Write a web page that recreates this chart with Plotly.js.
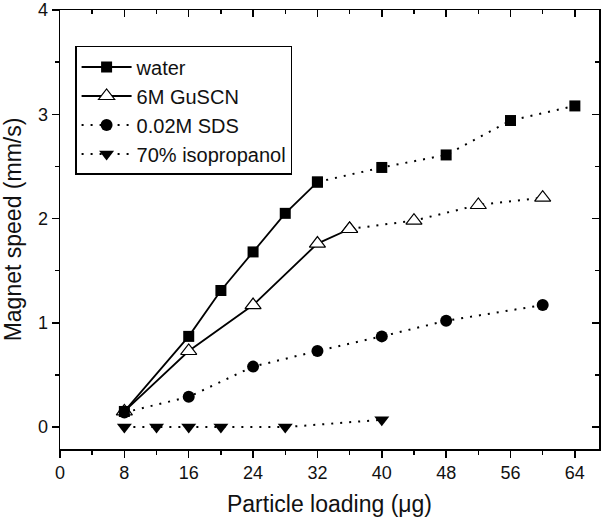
<!DOCTYPE html>
<html><head><meta charset="utf-8">
<script src="https://cdn.plot.ly/plotly-3.0.1.min.js"></script>
<style>body{margin:0;padding:0;background:#fff}#chart{width:601px;height:517px}</style>
</head><body><div id="chart"></div>
<script>
// water
const waterX = [8, 16, 20, 24, 28, 32, 40, 48, 56, 64];
const waterY = [0.15, 0.87, 1.31, 1.68, 2.05, 2.35, 2.49, 2.61, 2.94, 3.08];
const waterSolidEnd = 32;
// 6M GuSCN
const guscnX = [8, 16, 24, 32, 36, 44, 52, 60];
const guscnY = [0.15, 0.73, 1.17, 1.76, 1.90, 1.98, 2.13, 2.20];
const guscnSolidEnd = 36;
// 0.02M SDS
const sdsX = [8, 16, 24, 32, 40, 48, 60];
const sdsY = [0.14, 0.29, 0.58, 0.73, 0.87, 1.02, 1.17];
// 70% isopropanol
const isoX = [8, 12, 16, 20, 28, 40];
const isoY = [0, 0, 0, 0, 0, 0.07];
const seriesNames = ['water', '6M GuSCN', '0.02M SDS', '70% isopropanol'];
const xTicks = [0, 8, 16, 24, 32, 40, 48, 56, 64];
const yTicks = [0, 1, 2, 3, 4];

function split(xs, ys, end) {
  const a = {x: [], y: []}, b = {x: [], y: []};
  xs.forEach((x, i) => {
    if (x <= end) { a.x.push(x); a.y.push(ys[i]); }
    if (x >= end) { b.x.push(x); b.y.push(ys[i]); }
  });
  return [a, b];
}
const [wA, wB] = split(waterX, waterY, waterSolidEnd);
const [gA, gB] = split(guscnX, guscnY, guscnSolidEnd);

const lw = 1.8;
const dotted = '2px,7px';
const traces = [
  {x: isoX, y: isoY, name: seriesNames[3], legendrank: 4, mode: 'lines+markers',
   line: {color: '#000', width: 2, dash: dotted},
   marker: {symbol: 'triangle-down', size: 13, color: '#000'}},
  {x: sdsX, y: sdsY, name: seriesNames[2], legendrank: 3, mode: 'lines+markers',
   line: {color: '#000', width: 2, dash: dotted},
   marker: {symbol: 'circle', size: 12, color: '#000'}},
  {x: gA.x, y: gA.y, name: seriesNames[1], legendrank: 2, mode: 'lines+markers',
   line: {color: '#000', width: lw},
   marker: {symbol: 'triangle-up', size: 14, color: '#fff', line: {color: '#000', width: 1.2}}},
  {x: gB.x, y: gB.y, name: seriesNames[1], showlegend: false, mode: 'lines+markers',
   line: {color: '#000', width: 2, dash: dotted},
   marker: {symbol: 'triangle-up', size: 14, color: '#fff', line: {color: '#000', width: 1.2}}},
  {x: wA.x, y: wA.y, name: seriesNames[0], legendrank: 1, mode: 'lines+markers',
   line: {color: '#000', width: lw},
   marker: {symbol: 'square', size: 11, color: '#000'}},
  {x: wB.x, y: wB.y, name: seriesNames[0], showlegend: false, mode: 'lines+markers',
   line: {color: '#000', width: 2, dash: dotted},
   marker: {symbol: 'square', size: 11, color: '#000'}}
];

const tickFont = {family: 'Liberation Sans, Arial, sans-serif', size: 18, color: '#111'};
const titleFont = {family: 'Liberation Sans, Arial, sans-serif', size: 23, color: '#111'};
const xr = [0, 67], yr = [-0.21, 4];

const layout = {
  width: 601, height: 517,
  margin: {l: 60, r: 2, t: 10, b: 68},
  paper_bgcolor: '#fff', plot_bgcolor: '#fff',
  showlegend: true,
  legend: {x: 0.028, y: 0.918, xanchor: 'left', yanchor: 'top',
    bgcolor: '#fff', bordercolor: '#000', borderwidth: 1.5,
    font: {family: 'Liberation Sans, Arial, sans-serif', size: 20, color: '#111'},
    tracegroupgap: 0, itemwidth: 50},
  xaxis: {range: xr, tickvals: xTicks, ticktext: xTicks.map(String),
    ticks: 'outside', ticklen: 7, tickwidth: 1.5, tickcolor: '#000',
    minor: {dtick: 4, tick0: 0, ticks: 'outside', ticklen: 4, tickwidth: 1.5, tickcolor: '#000'},
    showline: true, linecolor: '#000', linewidth: 1.5, mirror: true,
    showgrid: false, zeroline: false, tickfont: tickFont,
    title: {text: 'Particle loading (μg)', font: titleFont, standoff: 14}},
  yaxis: {range: yr, tickvals: yTicks, ticktext: yTicks.map(String),
    ticks: 'outside', ticklen: 7, tickwidth: 1.5, tickcolor: '#000',
    minor: {dtick: 0.5, tick0: 0, ticks: 'outside', ticklen: 4, tickwidth: 1.5, tickcolor: '#000'},
    showline: true, linecolor: '#000', linewidth: 1.5, mirror: true,
    showgrid: false, zeroline: false, tickfont: tickFont,
    title: {text: 'Magnet speed (mm/s)', font: titleFont, standoff: 12}},
  xaxis2: {overlaying: 'x', side: 'top', anchor: 'y', range: xr, tickvals: xTicks,
    ticks: 'inside', ticklen: 7, tickwidth: 1.5, tickcolor: '#000',
    minor: {dtick: 4, tick0: 0, ticks: 'inside', ticklen: 4, tickwidth: 1.5, tickcolor: '#000'},
    showticklabels: false, showgrid: false, zeroline: false, showline: false},
  yaxis2: {overlaying: 'y', side: 'right', anchor: 'x', range: yr, tickvals: yTicks,
    ticks: 'inside', ticklen: 7, tickwidth: 1.5, tickcolor: '#000',
    minor: {dtick: 0.5, tick0: 0, ticks: 'inside', ticklen: 4, tickwidth: 1.5, tickcolor: '#000'},
    showticklabels: false, showgrid: false, zeroline: false, showline: false}
};

traces.push({x: [], y: [], xaxis: 'x2', yaxis: 'y2', showlegend: false, hoverinfo: 'skip', mode: 'markers'});

Plotly.newPlot('chart', traces, layout, {displayModeBar: false, staticPlot: true});
</script>
</body></html>
